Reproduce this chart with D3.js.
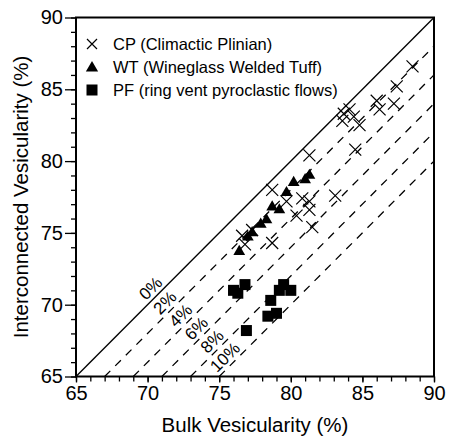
<!DOCTYPE html>
<html>
<head>
<meta charset="utf-8">
<script src="https://cdn.jsdelivr.net/npm/d3@7"></script>
<style>
  body { margin: 0; background: #fff; }
  text { font-family: "Liberation Sans", Arial, sans-serif; fill: #000; }
</style>
</head>
<body>
<div id="chart"></div>
<script>
// bulk vs interconnected vesicularity (%)
var cpData = [
  [88.5, 86.6], [87.4, 85.2], [87.2, 84.0], [86.0, 84.2], [86.2, 83.6],
  [83.7, 83.3], [84.1, 83.6], [83.6, 82.8], [84.4, 83.1], [84.8, 82.5],
  [84.5, 80.8], [81.3, 80.4], [78.7, 78.0], [83.1, 77.6], [80.8, 77.4],
  [81.3, 77.2], [79.7, 77.2], [81.3, 76.6], [80.4, 76.2], [81.5, 75.4],
  [76.6, 74.8], [77.3, 75.2], [78.7, 74.3], [76.8, 74.2]
];
var wtData = [
  [81.3, 79.0], [81.0, 78.7], [80.2, 78.5], [79.7, 77.8], [78.7, 76.8],
  [79.2, 76.6], [78.3, 75.9], [77.9, 75.6], [77.3, 75.0], [77.0, 74.7],
  [76.4, 73.7]
];
var pfData = [
  [76.0, 71.0], [76.3, 70.8], [76.8, 71.4], [79.5, 71.4], [80.0, 71.0],
  [79.2, 71.0], [78.6, 70.3], [78.4, 69.2], [79.0, 69.4], [76.9, 68.2]
];
var isoLines = [2, 4, 6, 8, 10];
var majorTicks = [65, 70, 75, 80, 85, 90];
var legendLabels = ["CP (Climactic Plinian)", "WT (Wineglass Welded Tuff)", "PF (ring vent pyroclastic flows)"];

var svg = d3.select("#chart").append("svg").attr("width", 449).attr("height", 439),
    margin = {top: 17.5, right: 15, bottom: 62.5, left: 76},
    width = 449 - margin.left - margin.right,
    height = 439 - margin.top - margin.bottom,
    g = svg.append("g").attr("transform", "translate(" + margin.left + "," + margin.top + ")");

var x = d3.scaleLinear().domain([65, 90]).range([0, width]);
var y = d3.scaleLinear().domain([65, 90]).range([height, 0]);

// minor ticks
g.append("g")
    .attr("transform", "translate(0," + height + ")")
    .call(d3.axisBottom(x).ticks(25).tickSize(5).tickFormat(""))
    .call(function(a) { a.select(".domain").remove(); a.selectAll("line").attr("stroke-width", 1.3); });
g.append("g")
    .call(d3.axisLeft(y).ticks(25).tickSize(5).tickFormat(""))
    .call(function(a) { a.select(".domain").remove(); a.selectAll("line").attr("stroke-width", 1.3); });

// major ticks
g.append("g")
    .attr("transform", "translate(0," + height + ")")
    .call(d3.axisBottom(x).tickValues(majorTicks).tickSize(6).tickPadding(3))
    .call(function(a) {
      a.select(".domain").remove();
      a.selectAll("line").attr("stroke-width", 1.3);
      a.selectAll("text").attr("font-size", 20).attr("font-family", "Liberation Sans, Arial, sans-serif");
    });
g.append("g")
    .call(d3.axisLeft(y).tickValues(majorTicks).tickSize(11).tickPadding(2))
    .call(function(a) {
      a.select(".domain").remove();
      a.selectAll("line").attr("stroke-width", 1.3);
      a.selectAll("text").attr("font-size", 20).attr("font-family", "Liberation Sans, Arial, sans-serif");
    });

// reference lines
var clip = g.append("clipPath").attr("id", "clip").append("rect").attr("width", width).attr("height", height);
var lines = g.append("g").attr("clip-path", "url(#clip)");
lines.append("line")
    .attr("x1", x(65)).attr("y1", y(65)).attr("x2", x(90)).attr("y2", y(90))
    .attr("stroke", "#000").attr("stroke-width", 1.3);
lines.selectAll(".iso")
    .data(isoLines)
    .enter().append("line")
      .attr("class", "iso")
      .attr("x1", function(d) { return x(65 + d); })
      .attr("y1", y(65))
      .attr("x2", x(90))
      .attr("y2", function(d) { return y(90 - d); })
      .attr("stroke", "#000")
      .attr("stroke-width", 1.3)
      .attr("stroke-dasharray", "8,7");

// line labels (centred just above each line)
var labelPos = [0].concat(isoLines);
var labelX = [70.2, 71.2, 72.3, 73.4, 74.5, 75.4];
g.selectAll(".lbl")
    .data(labelPos)
    .enter().append("text")
      .attr("class", "lbl")
      .attr("transform", function(d, i) {
        return "translate(" + x(labelX[i]) + "," + y(labelX[i] - d + 0.95) + ") rotate(-45)";
      })
      .attr("text-anchor", "middle")
      .attr("dy", "0.35em")
      .attr("font-size", 17)
      .text(function(d) { return d + "%"; });

// points
g.selectAll(".cp")
    .data(cpData)
    .enter().append("path")
      .attr("class", "cp")
      .attr("transform", function(d) { return "translate(" + x(d[0]) + "," + y(d[1]) + ")"; })
      .attr("d", "M-6,-6L6,6M-6,6L6,-6")
      .attr("stroke", "#000")
      .attr("stroke-width", 1.2)
      .attr("fill", "none");

var tri = d3.symbol().type(d3.symbolTriangle).size(60);
g.selectAll(".wt")
    .data(wtData)
    .enter().append("path")
      .attr("class", "wt")
      .attr("transform", function(d) { return "translate(" + x(d[0]) + "," + y(d[1]) + ")"; })
      .attr("d", tri)
      .attr("fill", "#000");

g.selectAll(".pf")
    .data(pfData)
    .enter().append("rect")
      .attr("class", "pf")
      .attr("x", function(d) { return x(d[0]) - 5.5; })
      .attr("y", function(d) { return y(d[1]) - 5.5; })
      .attr("width", 11)
      .attr("height", 11)
      .attr("fill", "#000");

// frame
g.append("rect")
    .attr("width", width).attr("height", height)
    .attr("fill", "none").attr("stroke", "#000").attr("stroke-width", 2);

// legend
var legend = svg.append("g").attr("transform", "translate(92,0)");
var rowY = [44, 67, 90];
legend.append("path")
    .attr("transform", "translate(0," + rowY[0] + ")")
    .attr("d", "M-5,-5L5,5M-5,5L5,-5")
    .attr("stroke", "#000").attr("stroke-width", 1.2);
legend.append("path")
    .attr("transform", "translate(0," + (rowY[1] + 1) + ")")
    .attr("d", d3.symbol().type(d3.symbolTriangle).size(65))
    .attr("fill", "#000");
legend.append("rect")
    .attr("x", -5.5).attr("y", rowY[2] - 5.5).attr("width", 11).attr("height", 11)
    .attr("fill", "#000");
legend.selectAll(".leg")
    .data(legendLabels)
    .enter().append("text")
      .attr("class", "leg")
      .attr("x", 21)
      .attr("y", function(d, i) { return rowY[i]; })
      .attr("dy", "0.35em")
      .attr("font-size", 16.5)
      .text(function(d) { return d; });

// axis titles
svg.append("text")
    .attr("x", margin.left + width / 2)
    .attr("y", 432)
    .attr("text-anchor", "middle")
    .attr("font-size", 20.5)
    .text("Bulk Vesicularity (%)");
svg.append("text")
    .attr("transform", "translate(28," + (margin.top + height / 2) + ") rotate(-90)")
    .attr("text-anchor", "middle")
    .attr("font-size", 20.5)
    .text("Interconnected Vesicularity (%)");
</script>
</body>
</html>
